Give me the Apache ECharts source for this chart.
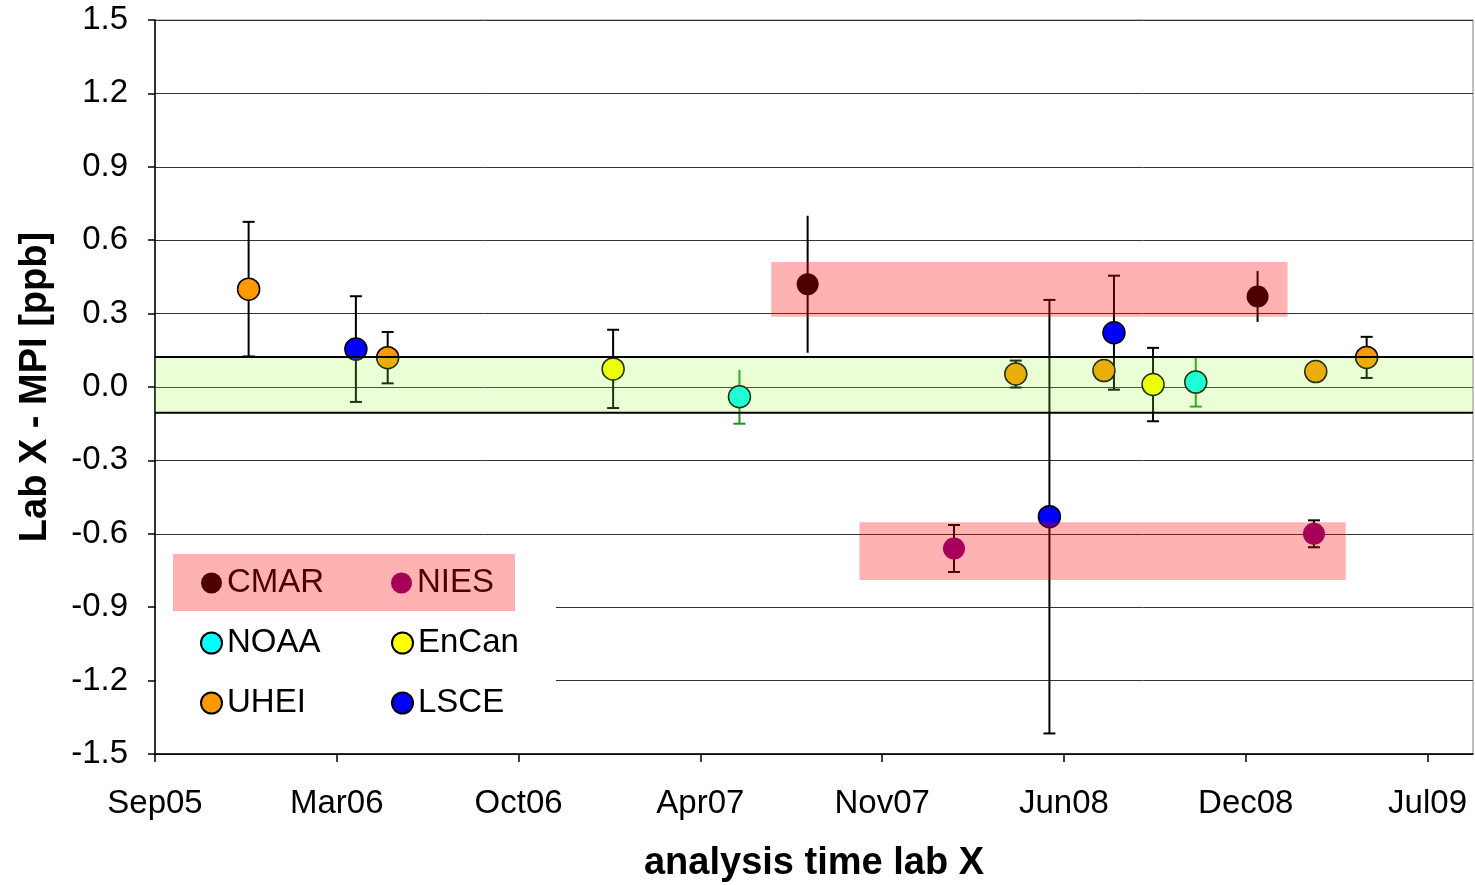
<!DOCTYPE html>
<html>
<head>
<meta charset="utf-8">
<script src="https://cdn.jsdelivr.net/npm/echarts@6/dist/echarts.min.js"></script>
<style>
  html, body { margin: 0; padding: 0; background: #fff; }
  #chart { width: 1475px; height: 885px; }
</style>
</head>
<body>
<div id="chart"></div>
<script>
// Lab X minus MPI comparison results, plotted against analysis date.
const labs = ['CMAR', 'NIES', 'NOAA', 'EnCan', 'UHEI', 'LSCE'];

const cmarDates = ['2007-08-29', '2009-01-05'];
const cmarDiff  = [0.42, 0.37];
const cmarErr   = [0.28, 0.104];

const niesDates = ['2008-02-06', '2009-03-08'];
const niesDiff  = [-0.66, -0.60];
const niesErr   = [0.096, 0.055];

const noaaDates = ['2007-06-15', '2008-10-29'];
const noaaDiff  = [-0.04, 0.02];
const noaaErr   = [0.11, 0.10];

const encanDates = ['2007-01-27', '2008-09-12'];
const encanDiff  = [0.074, 0.01];
const encanErr   = [0.16, 0.15];

const uheiDates = ['2005-12-22', '2006-05-24', '2008-04-14', '2008-07-20', '2009-03-10', '2009-05-05'];
const uheiDiff  = [0.40, 0.12, 0.053, 0.067, 0.063, 0.121];
const uheiErr   = [0.275, 0.105, 0.055, 0.03, 0.03, 0.084];

const lsceDates = ['2006-04-19', '2008-05-21', '2008-07-31'];
const lsceDiff  = [0.155, -0.53, 0.222];
const lsceErr   = [0.216, 0.886, 0.233];

// time axis: days counted from the first tick, one tick every 200 days
const axisStart = '2005-09-10';
const tickLabels = ['Sep05', 'Mar06', 'Oct06', 'Apr07', 'Nov07', 'Jun08', 'Dec08', 'Jul09'];
const yTicks = [-1.5, -1.2, -0.9, -0.6, -0.3, 0.0, 0.3, 0.6, 0.9, 1.2, 1.5];

// compatibility band around zero and the two highlighted groups
const bandLow = -0.105, bandHigh = 0.123;
const boxStarts = ['2007-07-20', '2007-10-25'];
const boxEnds   = ['2009-02-07', '2009-04-12'];
const boxLows   = [0.287, -0.789];
const boxHighs  = [0.511, -0.553];

const DAY = 86400000;
function dayOf(d) { return (Date.parse(d) - Date.parse(axisStart)) / DAY; }

const X_STEP = 200, X_MIN = 0, X_MAX = 1450;

const labData = {
  CMAR: [cmarDates, cmarDiff, cmarErr],
  NIES: [niesDates, niesDiff, niesErr],
  NOAA: [noaaDates, noaaDiff, noaaErr],
  EnCan: [encanDates, encanDiff, encanErr],
  UHEI: [uheiDates, uheiDiff, uheiErr],
  LSCE: [lsceDates, lsceDiff, lsceErr]
};

const markerStyle = {
  CMAR:  { color: '#000000', borderWidth: 0 },
  NIES:  { color: '#800080', borderWidth: 0 },
  NOAA:  { color: '#00FFFF', borderColor: '#000', borderWidth: 1.5 },
  EnCan: { color: '#FFFF00', borderColor: '#000', borderWidth: 1.5 },
  UHEI:  { color: '#FF9900', borderColor: '#000', borderWidth: 1.5 },
  LSCE:  { color: '#0000FF', borderColor: '#000', borderWidth: 1.5 }
};
const barStyle = {
  CMAR:  { stroke: '#000', caps: 'none' },
  NIES:  { stroke: '#000', caps: 'both' },
  NOAA:  { stroke: '#1a961a', caps: 'minus' },
  EnCan: { stroke: '#000', caps: 'both' },
  UHEI:  { stroke: '#000', caps: 'both' },
  LSCE:  { stroke: '#000', caps: 'both' }
};

const FONT = '"Liberation Sans", Arial, Helvetica, sans-serif';

const series = [];

labs.forEach(function (lab) {
  const [dates, diff, err] = labData[lab];
  const pts = dates.map(function (d, i) { return [dayOf(d), diff[i], err[i]]; });

  // vertical error bars
  series.push({
    type: 'custom',
    name: lab + ' error',
    z: 2,
    silent: true,
    encode: { x: 0, y: 1 },
    data: pts,
    renderItem: function (params, api) {
      const x = api.value(0), y = api.value(1), e = api.value(2);
      const top = api.coord([x, y + e]);
      const bot = api.coord([x, y - e]);
      const st = barStyle[lab];
      const style = { stroke: st.stroke, lineWidth: 2 };
      const children = [{ type: 'line', shape: { x1: top[0], y1: top[1], x2: bot[0], y2: bot[1] }, style: style }];
      const hw = 6;
      if (st.caps === 'both') {
        children.push({ type: 'line', shape: { x1: top[0] - hw, y1: top[1], x2: top[0] + hw, y2: top[1] }, style: style });
      }
      if (st.caps === 'both' || st.caps === 'minus') {
        children.push({ type: 'line', shape: { x1: bot[0] - hw, y1: bot[1], x2: bot[0] + hw, y2: bot[1] }, style: style });
      }
      return { type: 'group', children: children };
    }
  });

  // lab markers
  series.push({
    type: 'scatter',
    name: lab,
    z: 3,
    symbol: 'circle',
    symbolSize: 22,
    itemStyle: Object.assign({ opacity: 1 }, markerStyle[lab]),
    emphasis: { disabled: true },
    data: pts.map(function (p) { return [p[0], p[1]]; })
  });
});

// translucent green band around zero
series.push({
  type: 'custom',
  name: 'band',
  z: 4,
  silent: true,
  data: [[bandLow, bandHigh]],
  renderItem: function (params, api) {
    const p0 = api.coord([X_MIN, api.value(1)]);
    const p1 = api.coord([X_MAX, api.value(0)]);
    return {
      type: 'group',
      children: [
        { type: 'rect', shape: { x: p0[0], y: p0[1], width: p1[0] - p0[0], height: p1[1] - p0[1] },
          style: { fill: 'rgba(153,255,51,0.2)' } },
        { type: 'line', shape: { x1: p0[0], y1: p0[1], x2: p1[0], y2: p0[1] }, style: { stroke: '#000', lineWidth: 2 } },
        { type: 'line', shape: { x1: p0[0], y1: p1[1], x2: p1[0], y2: p1[1] }, style: { stroke: '#000', lineWidth: 2 } }
      ]
    };
  }
});

// translucent red boxes marking the two groups
series.push({
  type: 'custom',
  name: 'groups',
  z: 4,
  silent: true,
  data: boxStarts.map(function (s, i) { return [dayOf(s), dayOf(boxEnds[i]), boxLows[i], boxHighs[i]]; }),
  renderItem: function (params, api) {
    const a = api.coord([api.value(0), api.value(3)]);
    const b = api.coord([api.value(1), api.value(2)]);
    return { type: 'rect', shape: { x: a[0], y: a[1], width: b[0] - a[0], height: b[1] - a[1] },
      style: { fill: 'rgba(255,0,0,0.3)' } };
  }
});

const chart = echarts.init(document.getElementById('chart'), null, { renderer: 'canvas' });
chart.setOption({
  animation: false,
  backgroundColor: '#ffffff',
  textStyle: { fontFamily: FONT },
  grid: {
    left: 155, right: 2, top: 20, bottom: 131,
    outerBoundsMode: 'none',
    show: true, borderColor: '#808080', borderWidth: 1
  },
  xAxis: {
    type: 'value',
    min: X_MIN,
    max: X_MAX,
    interval: X_STEP,
    name: 'analysis time lab X',
    nameLocation: 'middle',
    nameGap: 91,
    nameTextStyle: { fontFamily: FONT, fontSize: 38, fontWeight: 'bold', color: '#000' },
    axisLine: { show: true, onZero: false, lineStyle: { color: '#000', width: 1.5 } },
    axisTick: { show: true, length: 8, inside: false, lineStyle: { color: '#000', width: 1.5 } },
    axisLabel: {
      margin: 33, fontFamily: FONT, fontSize: 33, color: '#000',
      showMaxLabel: false,
      formatter: function (v) { return v % X_STEP === 0 ? (tickLabels[v / X_STEP] || '') : ''; }
    },
    splitLine: { show: false }
  },
  yAxis: {
    type: 'value',
    min: yTicks[0],
    max: yTicks[yTicks.length - 1],
    interval: 0.3,
    name: 'Lab X - MPI [ppb]',
    nameLocation: 'middle',
    nameGap: 100,
    nameTextStyle: { fontFamily: FONT, fontSize: 38, fontWeight: 'bold', color: '#000' },
    axisLine: { show: true, lineStyle: { color: '#000', width: 1.5 } },
    axisTick: { show: true, length: 7, inside: false, lineStyle: { color: '#000', width: 1.5 } },
    axisLabel: {
      margin: 27, fontFamily: FONT, fontSize: 33, color: '#000',
      formatter: function (v) { return v.toFixed(1); }
    },
    splitLine: { show: true, lineStyle: { color: '#333', width: 1 } }
  },
  legend: {
    data: labs,
    orient: 'horizontal',
    left: 156,
    top: 545,
    width: 356,
    padding: [21, 0, 17, 44],
    itemGap: 26,
    itemWidth: 21,
    itemHeight: 21,
    icon: 'circle',
    selectedMode: false,
    backgroundColor: '#ffffff',
    z: 6,
    textStyle: { fontFamily: FONT, fontSize: 33, color: '#000', width: 138, lineHeight: 34 }
  },
  graphic: [{
    type: 'rect',
    z: 100,
    silent: true,
    shape: { x: 173, y: 554, width: 342, height: 57 },
    style: { fill: 'rgba(255,0,0,0.3)' }
  }],
  series: series
});
</script>
</body>
</html>
